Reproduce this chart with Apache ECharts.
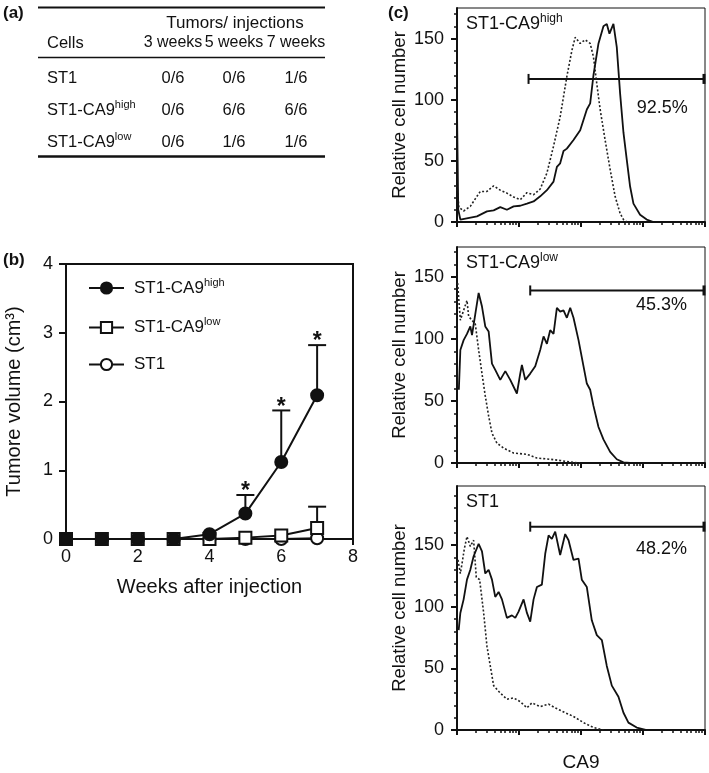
<!DOCTYPE html>
<html>
<head>
<meta charset="utf-8">
<script src="https://cdn.jsdelivr.net/npm/echarts@6/dist/echarts.min.js"></script>
<style>
html,body{margin:0;padding:0;background:#fff;}
#main{width:709px;height:773px;}
</style>
</head>
<body>
<div id="main"></div>
<script>
// ---------------- DATA ----------------
// (a) table
const tableHeader = 'Tumors/ injections';
const tableCellsHead = 'Cells';
const tableCols = ['3 weeks', '5 weeks', '7 weeks'];
const tableRowNames = [['ST1', ''], ['ST1-CA9', 'high'], ['ST1-CA9', 'low']];
const week3 = ['0/6', '0/6', '0/6'];
const week5 = ['0/6', '6/6', '1/6'];
const week7 = ['1/6', '6/6', '1/6'];

// (b) tumour growth
const weeks = [0, 1, 2, 3, 4, 5, 6, 7];
const volHigh = [0, 0, 0, 0, 0.07, 0.37, 1.12, 2.09];
const sdHigh = [0, 0, 0, 0, 0, 0.27, 0.75, 0.73];
const volLow = [0, 0, 0, 0, 0, 0.02, 0.05, 0.16];
const sdLow = [0, 0, 0, 0, 0, 0, 0, 0.31];
const volST1 = [0, 0, 0, 0, 0, 0, 0, 0.01];
const sigWeeks = [5, 6, 7];

// (c) flow cytometry histograms: [CA9 (log10 decades), relative cell number]
const c1Solid = [[0,92],[0.02,10],[0.054,2],[0.322,4.6],[0.483,8.7],[0.591,9.5],[0.698,12.2],[0.805,10],[0.913,12.8],[1.02,13.3],[1.128,15],[1.235,16.8],[1.342,21],[1.45,26],[1.557,33],[1.611,45],[1.664,48],[1.718,58],[1.772,60],[1.879,67],[1.987,75],[2.094,92],[2.148,97],[2.201,120],[2.282,146],[2.362,160],[2.416,162],[2.459,154],[2.523,162],[2.577,143],[2.631,105],[2.685,73],[2.738,51],[2.792,29],[2.846,15],[2.953,6],[3.06,2],[3.168,0]];
const c1Dotted = [[0,30],[0.03,12],[0.107,9],[0.215,12.8],[0.322,21],[0.376,25],[0.483,25],[0.591,29.6],[0.698,26],[0.805,23.6],[0.913,20.4],[1.02,18.2],[1.128,24],[1.235,22.3],[1.342,27],[1.45,40],[1.557,62],[1.664,86],[1.772,119],[1.852,140],[1.906,151],[1.987,146],[2.067,149],[2.148,146],[2.201,135],[2.255,113],[2.309,92],[2.389,67],[2.47,43],[2.55,21],[2.631,7],[2.685,2],[2.738,0]];
const c2Solid = [[0.03,59],[0.054,91],[0.107,99],[0.161,104],[0.215,110],[0.242,103],[0.295,120],[0.349,137],[0.403,126],[0.456,110],[0.51,106],[0.564,80],[0.617,75],[0.698,67],[0.779,74],[0.859,67],[0.966,56],[1.02,72],[1.047,79],[1.101,67],[1.181,72],[1.262,78],[1.342,91],[1.396,102],[1.45,96],[1.503,107],[1.557,104],[1.611,125],[1.664,122],[1.718,123],[1.772,117],[1.826,125],[1.879,117],[1.96,99],[2.04,78],[2.094,64],[2.148,59],[2.201,46],[2.282,29],[2.362,19],[2.47,9],[2.577,3],[2.685,0.5],[2.792,0]];
const c2Dotted = [[0.01,145],[0.054,115],[0.107,123],[0.161,131],[0.188,118],[0.242,115],[0.295,112],[0.349,91],[0.403,72],[0.456,54],[0.51,38],[0.564,24],[0.644,16],[0.752,12],[0.913,8],[1.128,7],[1.289,4],[1.503,3],[1.664,2],[1.879,0.5],[1.987,0]];
const c3Solid = [[0.027,81],[0.054,95],[0.107,106],[0.161,122],[0.215,130],[0.268,141],[0.349,151],[0.403,145],[0.456,127],[0.51,130],[0.564,122],[0.617,108],[0.671,112],[0.725,106],[0.805,91],[0.886,93],[0.94,91],[0.993,96],[1.074,106],[1.128,95],[1.181,88],[1.235,106],[1.289,116],[1.369,118],[1.423,143],[1.477,158],[1.53,155],[1.584,161],[1.664,142],[1.745,159],[1.799,154],[1.879,138],[1.96,139],[2.013,122],[2.094,116],[2.174,89],[2.255,77],[2.336,73],[2.416,52],[2.497,36],[2.604,27],[2.685,14],[2.765,6],[2.899,2],[3.06,0]];
const c3Dotted = [[0.016,138],[0.054,127],[0.081,135],[0.118,147],[0.161,157],[0.215,149],[0.268,154],[0.311,124],[0.365,122],[0.43,95],[0.483,68],[0.537,52],[0.591,36],[0.698,30],[0.805,25],[0.913,26],[1.02,23],[1.128,18],[1.208,22],[1.342,19],[1.477,21],[1.584,18],[1.745,14],[1.879,11],[2.04,6],[2.201,2],[2.362,0]];
const panelNames = [['ST1-CA9', 'high'], ['ST1-CA9', 'low'], ['ST1', '']];
const gateStart = [1.154, 1.181, 1.181];
const gateEnd = [4, 4, 4];
const gateLevel = [117, 139, 165];
const gatePct = ['92.5%', '45.3%', '48.2%'];
const gatePctX = [3.31, 3.30, 3.30];
const gatePctY = [93, 127, 147];
const cYMax = [175, 174, 198];
const cYTicks = [0, 50, 100, 150];

// ---------------- LAYOUT ----------------
const FONT = '"Liberation Sans", Arial, Helvetica, sans-serif';
const BLACK = '#111';
const cGrids = [
  {left: 457, top: 8, width: 248, height: 214},
  {left: 457, top: 247, width: 248, height: 216},
  {left: 457, top: 486, width: 248, height: 245}
];

const chart = echarts.init(document.getElementById('main'), null, {renderer: 'canvas'});

const supRich = {
  n: {fontSize: 16.5, fontFamily: FONT, color: BLACK, lineHeight: 22},
  s: {fontSize: 11, fontFamily: FONT, color: BLACK, lineHeight: 12, verticalAlign: 'top'}
};
const legRich = {
  n: {fontSize: 17, fontFamily: FONT, color: BLACK, lineHeight: 22},
  s: {fontSize: 11, fontFamily: FONT, color: BLACK, lineHeight: 12, verticalAlign: 'top'}
};
function richName(parts) {
  return parts[1] ? '{n|' + parts[0] + '}{s|' + parts[1] + '}' : '{n|' + parts[0] + '}';
}

// ---------------- GRAPHIC (table + panel letters) ----------------
const graphic = [];
function txt(x, y, text, opts) {
  graphic.push(Object.assign({
    type: 'text', x: x, y: y,
    style: Object.assign({text: text, font: '16.5px ' + FONT, fill: BLACK, align: 'left', verticalAlign: 'middle'}, opts || {})
  }));
}
function hline(x1, x2, y, w) {
  graphic.push({type: 'line', shape: {x1: x1, y1: y, x2: x2, y2: y}, style: {stroke: BLACK, lineWidth: w}});
}
txt(3, 13, '(a)', {font: 'bold 17px ' + FONT});
txt(3, 260, '(b)', {font: 'bold 17px ' + FONT});
txt(388, 13, '(c)', {font: 'bold 17px ' + FONT});
hline(38, 325, 7.5, 2);
hline(38, 325, 57.5, 1.6);
hline(38, 325, 156.5, 2.4);
txt(235, 23, tableHeader, {align: 'center', font: '17px ' + FONT});
txt(47, 43, tableCellsHead);
const colX = [173, 234, 296];
const rowY = [78, 110, 142];
tableCols.forEach((c, i) => txt(colX[i], 43, c, {align: 'center', font: '16px ' + FONT}));
tableRowNames.forEach((r, i) => {
  graphic.push({type: 'text', x: 47, y: rowY[i], style: {text: richName(r), rich: supRich, fill: BLACK, align: 'left', verticalAlign: 'middle'}});
});
[week3, week5, week7].forEach((col, j) => col.forEach((v, i) => txt(colX[j], rowY[i], v, {align: 'center'})));
// panel names in (c)
panelNames.forEach((p, k) => {
  graphic.push({type: 'text', x: 466, y: cGrids[k].top + 16, style: {text: richName(p), rich: {
    n: {fontSize: 18, fontFamily: FONT, color: BLACK, lineHeight: 22},
    s: {fontSize: 12, fontFamily: FONT, color: BLACK, lineHeight: 12, verticalAlign: 'top'}
  }, fill: BLACK, align: 'left', verticalAlign: 'middle'}});
});

// ---------------- AXES ----------------
const grids = [{left: 66, top: 264, width: 287, height: 275, show: true, borderColor: BLACK, borderWidth: 2}];
cGrids.forEach(g => grids.push(Object.assign({show: true, borderColor: BLACK, borderWidth: 1}, g)));

const xAxes = [{
  gridIndex: 0, type: 'value', min: 0, max: 8, interval: 2, position: 'bottom',
  axisLine: {onZero: false, lineStyle: {color: BLACK, width: 2}},
  axisTick: {length: 6, lineStyle: {color: BLACK, width: 2}},
  axisLabel: {fontSize: 18, color: BLACK, fontFamily: FONT, margin: 9},
  splitLine: {show: false},
  name: 'Weeks after injection', nameLocation: 'middle', nameGap: 38,
  nameTextStyle: {fontSize: 20, color: BLACK, fontFamily: FONT}
}];
const yAxes = [{
  gridIndex: 0, type: 'value', min: 0, max: 4, interval: 1,
  axisLine: {lineStyle: {color: BLACK, width: 2}},
  axisTick: {length: 7, lineStyle: {color: BLACK, width: 2}},
  axisLabel: {fontSize: 18, color: BLACK, fontFamily: FONT, margin: 13},
  splitLine: {show: false},
  name: 'Tumore volume (cm³)', nameLocation: 'middle', nameGap: 42,
  nameTextStyle: {fontSize: 20, color: BLACK, fontFamily: FONT}
}];
const minorX = [];
for (let d = 0; d < 4; d++) for (let k = 2; k <= 9; k++) minorX.push(d + Math.log10(k));
cGrids.forEach((g, k) => {
  const gi = k + 1;
  xAxes.push({
    gridIndex: gi, type: 'value', min: 0, max: 4, interval: 1, position: 'bottom',
    axisLine: {onZero: false, lineStyle: {color: BLACK, width: 2}},
    axisTick: {length: 5, lineStyle: {color: BLACK, width: 2}},
    axisLabel: {show: false}, splitLine: {show: false},
    name: k === 2 ? 'CA9' : '', nameLocation: 'middle', nameGap: 23,
    nameTextStyle: {fontSize: 19, color: BLACK, fontFamily: FONT}
  });
  xAxes.push({
    gridIndex: gi, type: 'value', min: 0, max: 4, position: 'bottom',
    axisLine: {show: false},
    axisTick: {show: true, customValues: minorX, length: 3, lineStyle: {color: BLACK, width: 1.5}},
    axisLabel: {show: false}, splitLine: {show: false}
  });
  const minorY = [];
  for (let v = 10; v < cYMax[k]; v += 10) if (v % 50 !== 0) minorY.push(v);
  yAxes.push({
    gridIndex: gi, type: 'value', min: 0, max: cYMax[k], position: 'left',
    axisLine: {lineStyle: {color: BLACK, width: 2}},
    axisTick: {customValues: cYTicks, length: 6, lineStyle: {color: BLACK, width: 2}},
    axisLabel: {customValues: cYTicks, fontSize: 18, color: BLACK, fontFamily: FONT, margin: 13},
    splitLine: {show: false},
    name: 'Relative cell number', nameLocation: 'middle', nameGap: 48,
    nameTextStyle: {fontSize: 18.5, color: BLACK, fontFamily: FONT}
  });
  yAxes.push({
    gridIndex: gi, type: 'value', min: 0, max: cYMax[k], position: 'left',
    axisLine: {show: false},
    axisTick: {show: true, customValues: minorY, length: 3, lineStyle: {color: BLACK, width: 1.5}},
    axisLabel: {show: false}, splitLine: {show: false}
  });
});

// ---------------- SERIES ----------------
const series = [];
function pairs(v) { return weeks.map((w, i) => [w, v[i]]); }
function errData(v, sd) { return weeks.map((w, i) => [w, v[i], v[i] + sd[i]]).filter(d => d[2] > d[1]); }
series.push({
  type: 'custom', xAxisIndex: 0, yAxisIndex: 0, z: 1, silent: true,
  data: errData(volHigh, sdHigh).concat(errData(volLow, sdLow)),
  renderItem: function (params, api) {
    const p0 = api.coord([api.value(0), api.value(1)]);
    const p1 = api.coord([api.value(0), api.value(2)]);
    return {type: 'group', children: [
      {type: 'line', shape: {x1: p0[0], y1: p0[1], x2: p1[0], y2: p1[1]}, style: {stroke: BLACK, lineWidth: 2}},
      {type: 'line', shape: {x1: p1[0] - 9, y1: p1[1], x2: p1[0] + 9, y2: p1[1]}, style: {stroke: BLACK, lineWidth: 2}}
    ]};
  }
});
series.push({
  type: 'custom', xAxisIndex: 0, yAxisIndex: 0, z: 5, silent: true,
  data: sigWeeks.map(w => [w, volHigh[w] + sdHigh[w]]),
  renderItem: function (params, api) {
    const p = api.coord([api.value(0), api.value(1)]);
    return {type: 'text', x: p[0], y: p[1] - 3, style: {text: '*', font: 'bold 23px ' + FONT, fill: BLACK, align: 'center', verticalAlign: 'middle'}};
  }
});
function growth(name, data, symbol, fill) {
  return {
    name: name, type: 'line', xAxisIndex: 0, yAxisIndex: 0, z: 3, data: data,
    symbol: symbol, symbolSize: 12, showAllSymbol: true,
    lineStyle: {color: BLACK, width: 2},
    itemStyle: {color: fill, borderColor: BLACK, borderWidth: 2},
    emphasis: {disabled: true}, animation: false
  };
}
series.push(growth('ST1', pairs(volST1), 'circle', '#fff'));
series.push(growth('ST1-CA9low', pairs(volLow), 'rect', '#fff'));
series.push(growth('ST1-CA9high', pairs(volHigh), 'circle', BLACK));

const hists = [[c1Solid, c1Dotted], [c2Solid, c2Dotted], [c3Solid, c3Dotted]];
hists.forEach((h, k) => {
  const xi = 1 + 2 * k, yi = 1 + 2 * k;
  series.push({type: 'line', xAxisIndex: xi, yAxisIndex: yi, data: h[1], showSymbol: false, symbol: 'none', silent: true, animation: false,
    lineStyle: {color: '#222', width: 1.6, type: [2, 2]}});
  series.push({type: 'line', xAxisIndex: xi, yAxisIndex: yi, data: h[0], showSymbol: false, symbol: 'none', silent: true, animation: false,
    lineStyle: {color: BLACK, width: 1.8}});
  series.push({
    type: 'custom', xAxisIndex: xi, yAxisIndex: yi, silent: true, animation: false,
    data: [[gateStart[k], gateEnd[k], gateLevel[k], gatePctX[k], gatePctY[k]]],
    renderItem: function (params, api) {
      const a = api.coord([api.value(0), api.value(2)]);
      const b = api.coord([api.value(1), api.value(2)]);
      const t = api.coord([api.value(3), api.value(4)]);
      return {type: 'group', children: [
        {type: 'line', shape: {x1: a[0], y1: a[1], x2: b[0], y2: b[1]}, style: {stroke: BLACK, lineWidth: 2}},
        {type: 'line', shape: {x1: a[0], y1: a[1] - 5, x2: a[0], y2: a[1] + 5}, style: {stroke: BLACK, lineWidth: 2}},
        {type: 'line', shape: {x1: b[0] - 1, y1: b[1] - 5, x2: b[0] - 1, y2: b[1] + 5}, style: {stroke: BLACK, lineWidth: 3}},
        {type: 'text', x: t[0], y: t[1], style: {text: gatePct[k], font: '18px ' + FONT, fill: BLACK, align: 'center', verticalAlign: 'middle'}}
      ]};
    }
  });
});

chart.setOption({
  backgroundColor: '#fff',
  animation: false,
  textStyle: {fontFamily: FONT},
  grid: grids,
  xAxis: xAxes,
  yAxis: yAxes,
  legend: {
    data: ['ST1-CA9high', 'ST1-CA9low', 'ST1'],
    orient: 'vertical', left: 83, top: 272,
    itemWidth: 35, itemHeight: 14, itemGap: 20,
    selectedMode: false,
    formatter: function (name) {
      if (name === 'ST1-CA9high') return richName(['ST1-CA9', 'high']);
      if (name === 'ST1-CA9low') return richName(['ST1-CA9', 'low']);
      return richName([name, '']);
    },
    textStyle: {padding: [0, 0, 0, 5], rich: legRich}
  },
  graphic: graphic,
  series: series
});
</script>
</body>
</html>
